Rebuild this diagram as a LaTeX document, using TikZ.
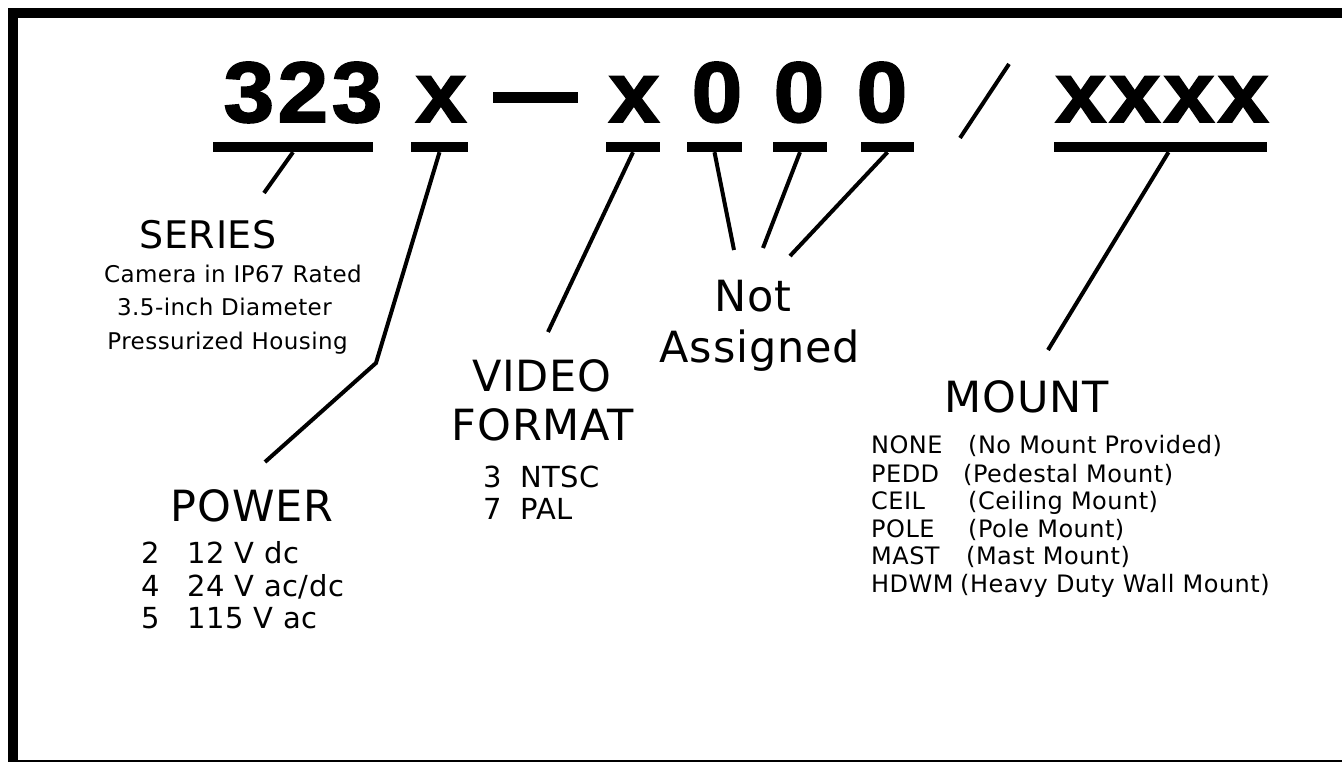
\documentclass[tikz,border=0pt]{standalone}
\usepackage{fontspec}
\setmainfont{DejaVu Sans}[LetterSpace=2]
\newfontfamily\codefont{Liberation Sans Bold}[FakeStretch=1.06, FakeBold=2, LetterSpace=4]

\tikzset{
  codetext/.style={font=\codefont\fontsize{86}{86}\selectfont, inner sep=0pt, anchor=base},
  barbox/.style={fill=black, inner sep=0pt, minimum height=10pt},
  headtext/.style={font=\fontsize{43}{50}\selectfont, inner sep=0pt, anchor=base},
  subtext/.style={font=\fontsize{23}{30}\selectfont, inner sep=0pt, anchor=base east},
  itemtext/.style={font=\fontsize{29}{32}\selectfont, inner sep=0pt, anchor=base west},
  mounttext/.style={font=\fontsize{24}{28}\selectfont, inner sep=0pt, anchor=base west},
  leader/.style={line width=4pt},
}

\begin{document}
\begin{tikzpicture}[x=1pt, y=-1pt]
                \useasboundingbox (0,0) rectangle (1342,762);
                \draw [line width=10pt] (13,13) rectangle (1360,765);
                % part number
                \node [codetext] (ser) at (303,122) {323};
                \node [codetext] (pwr) at (441,122) {x};
                \node [barbox, minimum width=85pt, minimum height=11pt] (dash) at (535.5,97.5) {};
                \node [codetext] (vid) at (634,122) {x};
                \node [codetext] (za) at (717,122) {0};
                \node [codetext] (zb) at (799,122) {0};
                \node [codetext] (zc) at (882,122) {0};
                \draw [leader] (960,138) -- (1009,64);
                \node [codetext] (mnt) at (1162,122) {xxxx};
                % bars
                \node [barbox, minimum width=160pt] (barser) at (293,147) {};
                \node [barbox, minimum width=57pt] (barpwr) at (439.5,147) {};
                \node [barbox, minimum width=54pt] (barvid) at (633,147) {};
                \node [barbox, minimum width=55pt] (barza) at (714.5,147) {};
                \node [barbox, minimum width=54pt] (barzb) at (800,147) {};
                \node [barbox, minimum width=53pt] (barzc) at (887.5,147) {};
                \node [barbox, minimum width=213pt] (barmnt) at (1160.5,147) {};
                % series
                \node [headtext, font=\fontsize{38}{44}\selectfont] (series) at (208,249) {SERIES};
                \node [subtext] (sera) at (362,283) {Camera in IP67 Rated};
                \node [subtext] (serb) at (332,316) {3.5-inch Diameter};
                \node [subtext] (serc) at (348,349) {Pressurized Housing};
                % power
                \node [headtext] (power) at (252,521) {POWER};
                \node [itemtext] (pa) at (141,563) {\makebox[46pt][l]{2}12 V dc};
                \node [itemtext] (pb) at (141,596) {\makebox[46pt][l]{4}24 V ac/dc};
                \node [itemtext] (pc) at (141,628) {\makebox[46pt][l]{5}115 V ac};
                % video format
                \node [headtext] (video) at (542,391) {VIDEO};
                \node [headtext] (format) at (543,440) {FORMAT};
                \node [itemtext] (va) at (483,487) {\makebox[37pt][l]{3}NTSC};
                \node [itemtext] (vb) at (483,519) {\makebox[37pt][l]{7}PAL};
                % not assigned
                \node [headtext] (nota) at (753,312) {Not};
                \node [headtext] (notb) at (760,362) {Assigned};
                % mount
                \node [headtext] (mount) at (1027,412) {MOUNT};
                \node [mounttext] (ma) at (871,453) {\makebox[97pt][l]{NONE}(No Mount Provided)};
                \node [mounttext] (mb) at (871,482) {\makebox[92pt][l]{PEDD}(Pedestal Mount)};
                \node [mounttext] (mc) at (871,509) {\makebox[97pt][l]{CEIL}(Ceiling Mount)};
                \node [mounttext] (md) at (871,537) {\makebox[97pt][l]{POLE}(Pole Mount)};
                \node [mounttext] (me) at (871,564) {\makebox[95pt][l]{MAST}(Mast Mount)};
                \node [mounttext] (mf) at (871,592) {\makebox[89pt][l]{HDWM}(Heavy Duty Wall Mount)};
                % leaders
                \coordinate (serend) at (264,193);
                \coordinate (pwrbend) at (376,363);
                \coordinate (pwrend) at (265,462);
                \coordinate (vidend) at (548,332);
                \coordinate (zaend) at (734,250);
                \coordinate (zbend) at (763,248);
                \coordinate (zcend) at (790,256);
                \coordinate (mntend) at (1048,350);
                \draw [leader] (barser.south) -- (serend);
                \draw [leader] (barpwr.south) -- (pwrbend) -- (pwrend);
                \draw [leader] (barvid.south) -- (vidend);
                \draw [leader] (barza.south) -- (zaend);
                \draw [leader] (barzb.south) -- (zbend);
                \draw [leader] (barzc.south) -- (zcend);
                \draw [leader] ([xshift=8pt]barmnt.south) -- (mntend);
\end{tikzpicture}
\end{document}
